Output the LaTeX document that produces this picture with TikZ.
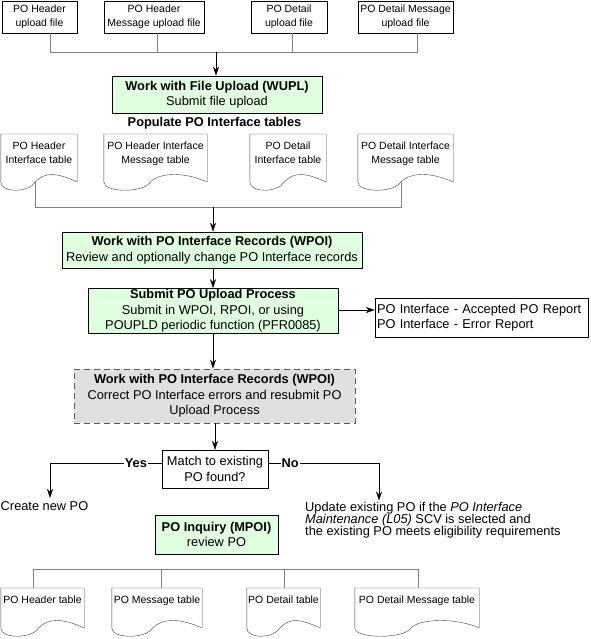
\documentclass[tikz,border=0pt]{standalone}
\usepackage{fontspec}
\setmainfont{Liberation Sans}
\usetikzlibrary{arrows.meta,calc}

\definecolor{upgreen}{RGB}{224,255,224}
\definecolor{fixgray}{RGB}{224,224,224}

% document shape drawn round a text node: #1 node, #2 depth of the right edge
\newcommand{\docshape}[2]{%
    \coordinate (#1-w) at ($(#1.north west)!0.45!(#1.north east)+(0,#2)$);
    \draw[docline] (#1.north west) -- (#1.north east) -- ++(0,#2)
        .. controls +(-22,-10) and +(10,-10) .. (#1-w)
        .. controls +(-6,11) and +(0,11) .. ($(#1.north west)+(0,#2)$) -- cycle;
}

\begin{document}
\begin{tikzpicture}[x=1pt, y=-1pt,
    filebox/.style={rectangle, draw, minimum height=32pt, inner sep=1pt, align=center, anchor=north, font=\fontsize{10.5}{14}\selectfont},
    tabtext/.style={inner xsep=1pt, inner ysep=8pt, align=center, anchor=north, font=\fontsize{10.5}{14}\selectfont},
    docline/.style={draw=black!75},
    work/.style={rectangle, draw, line width=0.9pt, fill=upgreen, inner sep=1pt, align=center, font=\fontsize{12.8}{15.5}\selectfont},
    plain/.style={rectangle, draw, inner sep=2pt, align=center, font=\fontsize{12.8}{15.5}\selectfont},
    merge/.style={draw=black!50},
    flow/.style={-{Stealth[length=9pt, width=6pt, inset=3pt]}},
    answer/.style={fill=white, inner sep=1pt, font=\fontsize{12.8}{15}\selectfont\bfseries}
]
\useasboundingbox (0,0) rectangle (590,639);

% upload files
\node[filebox, minimum width=75pt] (up1) at (39.5,1) {PO Header\\upload file};
\node[filebox, minimum width=100pt] (up2) at (154,1) {PO Header\\Message upload file};
\node[filebox, minimum width=76pt] (up3) at (289,1) {PO Detail\\upload file};
\node[filebox, minimum width=95pt] (up4) at (405.5,1) {PO Detail Message\\upload file};

\coordinate (upjoin) at (216,52);
\foreach \f/\dx in {up1/11, up2/3, up3/3, up4/11.5}
    \draw[merge] ([xshift=\dx pt]\f.south) |- (upjoin);

\node[work, minimum width=210pt, minimum height=37pt] (wupl) at (217,94.5) {\textbf{Work with File Upload (WUPL)}\\Submit file upload};
\draw[flow] (upjoin) -- (upjoin |- wupl.north);

\node[font=\fontsize{12.8}{15}\selectfont\bfseries] (populate) at (214.5,123) {Populate PO Interface tables};

% interface tables
\node[tabtext, minimum width=76pt] (if1) at (39,134) {PO Header\\Interface table};
\node[tabtext, minimum width=103pt] (if2) at (155.5,134) {PO Header Interface\\Message table};
\node[tabtext, minimum width=76pt] (if3) at (288,134) {PO Detail\\Interface table};
\node[tabtext, minimum width=95pt] (if4) at (405.5,134) {PO Detail Interface\\Message table};
\foreach \t in {if1, if2, if3, if4} {
    \docshape{\t}{48}
}

\node[work, minimum width=300pt, minimum height=36pt] (wpoi) at (212,250) {\textbf{Work with PO Interface Records (WPOI)}\\Review and optionally change PO Interface records};

\coordinate (ifjoin) at (213,207);
\foreach \t in {if1, if4}
    \draw[merge] (\t-w) |- (ifjoin);
\draw[flow] (ifjoin) -- (ifjoin |- wpoi.north);

\node[work, minimum width=250pt, minimum height=40pt] (submit) at (213,311) {\textbf{Submit PO Upload Process}\\Submit in WPOI, RPOI, or using\\POUPLD periodic function (PFR0085)};
\draw[flow] (submit.north |- wpoi.south) -- (submit.north);

\node[plain, align=left, text width=209pt, minimum height=39pt] (report) at (481.5,317.5) {PO Interface - Accepted PO Report\\PO Interface - Error Report};
\draw[flow] ([yshift=1pt]submit.east) -- ([yshift=1pt]submit.east -| report.west);

\node[work, fill=fixgray, draw=black!65, dash pattern=on 6pt off 4pt, minimum width=281pt, minimum height=54pt] (fixbox) at (214.5,396) {\textbf{Work with PO Interface Records (WPOI)}\\Correct PO Interface errors and resubmit PO\\Upload Process};
\draw[flow] (submit.south) -- (submit.south |- fixbox.north);

% decision
\node[plain, minimum width=106pt, minimum height=38pt] (match) at (215,469) {Match to existing\\PO found?};
\draw[flow] (fixbox.south -| match.north) -- (match.north);

\node[font=\fontsize{12.8}{15}\selectfont] (create) at (44.5,506) {Create new PO};
\node[anchor=north west, inner sep=2pt, align=left, font=\fontsize{12.8}{12}\selectfont] (update) at (303,500.5) {Update existing PO if the \textit{PO Interface}\\\textit{Maintenance (L05)} SCV is selected and\\the existing PO meets eligibility requirements};

\draw[flow] ([yshift=6pt]match.west) -| node[answer, pos=0.116] {Yes} ([xshift=5.5pt]create.north);
\draw[flow] ([yshift=6pt]match.east) -| node[answer, pos=0.099] {No} ([xshift=76pt]update.north west);

\node[work, minimum width=123pt, minimum height=39pt] (inquiry) at (216.5,534.5) {\textbf{PO Inquiry (MPOI)}\\review PO};

% result tables
\node[tabtext, minimum width=83pt] (t1) at (42.5,588) {PO Header table};
\node[tabtext, minimum width=90pt] (t2) at (157,588) {PO Message table};
\node[tabtext, minimum width=73pt] (t3) at (283.5,588) {PO Detail table};
\node[tabtext, minimum width=124pt] (t4) at (417,588) {PO Detail Message table};
\foreach \t in {t1, t2, t3, t4} {
    \docshape{\t}{40}
}

\coordinate (tabjoin) at (200,569);
\foreach \t/\dx in {t1/-9.5, t2/4, t3/0.5, t4/1}
    \draw[merge] ([xshift=\dx pt]\t.north) |- (tabjoin);

\end{tikzpicture}
\end{document}
